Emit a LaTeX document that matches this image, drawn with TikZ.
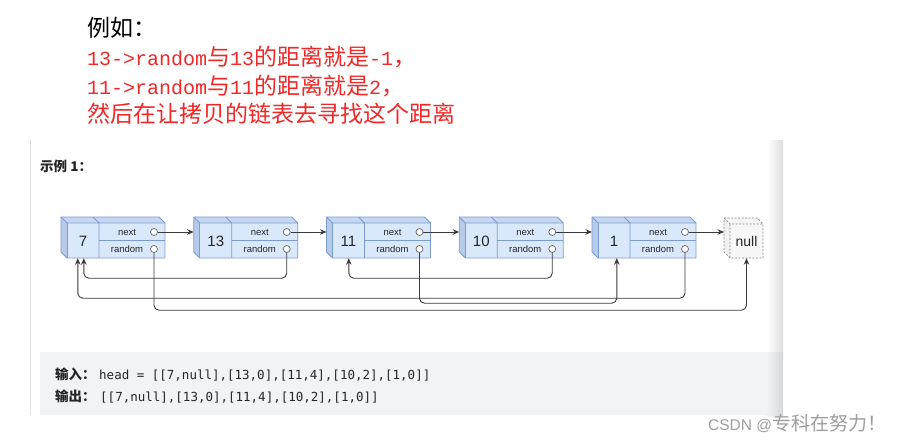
\documentclass[tikz,border=0pt]{standalone}
\usepackage{fontspec}
\setmainfont{Liberation Sans}
\newfontfamily\cjk{Noto Sans CJK SC}
\newfontfamily\monoA{Liberation Mono}
\newfontfamily\codef{DejaVu Sans Mono}
\usetikzlibrary{arrows.meta,calc}
\definecolor{nfill}{HTML}{DAE8FC}
\definecolor{nline}{HTML}{7A9CCF}
\definecolor{ntop}{HTML}{C6D7F1}
\definecolor{nside}{HTML}{B6CAEA}
\definecolor{arrc}{HTML}{3A3A3A}
\definecolor{redt}{HTML}{F02828}
\definecolor{codebg}{HTML}{F2F3F5}
\definecolor{txtd}{HTML}{262626}
\newcommand\AS[1]{{\fontsize{20pt}{24pt}\selectfont\monoA #1}}
\newcommand\CJ[1]{{\fontsize{23pt}{28pt}\selectfont\cjk #1}}
\tikzset{
  nbox/.style={minimum width=98pt,minimum height=35pt,inner sep=0pt,draw=none},
  nedge/.style={draw=nline,line width=0.8pt,line join=round},
  valtxt/.style={font=\fontsize{15pt}{17pt}\selectfont,text=txtd,inner sep=0pt},
  fieldtxt/.style={font=\fontsize{9.5pt}{11pt}\selectfont,text=txtd,inner sep=0pt},
  port/.style={circle,draw=black!60,fill=white,line width=0.7pt,minimum size=7pt,inner sep=0pt},
  arr/.style={draw=arrc,line width=0.9pt,rounded corners=5pt,-{Stealth[length=6.5pt,width=5.5pt]}},
  toptxt/.style={anchor=base west,inner sep=0pt},
}
\newcommand\lnode[3]{%
  \begin{scope}[shift={(#2,0)}]
    \fill[ntop] (0,217) -- (98,217) -- (104,223) -- (6,223) -- cycle;
    \fill[nside] (0,217) -- (6,223) -- (6,258) -- (0,252) -- cycle;
    \fill[nfill] (6,223) rectangle (104,258);
    \node[nbox] (#1) at (55,240.5) {};
    \draw[nedge] (0,217) -- (98,217) -- (104,223) -- (104,258) -- (6,258) -- (0,252) -- cycle;
    \draw[nedge] (0,217) -- (6,223) -- (104,223);
    \draw[nedge] (6,223) -- (6,258);
    \draw[nedge] (32,217) -- (38,223) -- (38,258);
    \draw[nedge] (38,240) -- (104,240);
    \node[valtxt] at (22,241) {#3};
    \node[fieldtxt] at (66,232) {next};
    \node[fieldtxt] at (66,249) {random};
    \node[port] (#1-n) at (93,232) {};
    \node[port] (#1-r) at (93,249) {};
    \coordinate (#1-in) at (0,232);
  \end{scope}}
\begin{document}
\begin{tikzpicture}[x=1pt,y=-1pt]
\useasboundingbox (0,0) rectangle (907,444);
\fill[white] (0,0) rectangle (907,444);
% top text
\node[toptxt] (t1) at (87,37) {\CJ{例如：}};
\node[toptxt,text=redt] (t2) at (87,65.5) {\AS{13->random}\CJ{与}\AS{13}\CJ{的距离就是}\AS{-1}\CJ{，}};
\node[toptxt,text=redt] (t3) at (87,94) {\AS{11->random}\CJ{与}\AS{11}\CJ{的距离就是}\AS{2}\CJ{，}};
\node[toptxt,text=redt] (t4) at (87,122.5) {\CJ{然后在让拷贝的链表去寻找这个距离}};
% panel
\draw[black!12,line width=1pt] (30.5,140) -- (30.5,415);
\fill[codebg] (40,352) rectangle (768,415);
\shade[left color=white,right color=black!13] (767,140) rectangle (783,352);
\shade[left color=codebg,right color=black!16] (767,352) rectangle (783,415);
\node[toptxt,text=txtd] (ex) at (40,171) {\fontsize{13.5pt}{16pt}\selectfont\cjk\bfseries 示例 1：};
% nodes
\lnode{n7}{61}{7}
\lnode{n13}{193.75}{13}
\lnode{n11}{326.5}{11}
\lnode{n10}{459.25}{10}
\lnode{n1}{592}{1}
% null box
\fill[black!4] (724,218) -- (757,218) -- (763,224) -- (730,224) -- cycle;
\fill[black!6] (724,218) -- (730,224) -- (730,258) -- (724,252) -- cycle;
\node[minimum width=33pt,minimum height=34pt,inner sep=0pt,fill=black!3] (nul) at (746.5,241) {\fontsize{14pt}{16pt}\selectfont\color{txtd}null};
\draw[black!45,line width=0.7pt,dash pattern=on 2pt off 1.5pt] (724,218) -- (757,218) -- (763,224) -- (763,258) -- (730,258) -- (724,252) -- cycle;
\draw[black!45,line width=0.7pt,dash pattern=on 2pt off 1.5pt] (724,218) -- (730,224) -- (763,224) (730,224) -- (730,258);
\coordinate (nul-in) at (724,232);
% next arrows
\draw[arr] (n7-n) -- (n13-in);
\draw[arr] (n13-n) -- (n11-in);
\draw[arr] (n11-n) -- (n10-in);
\draw[arr] (n10-n) -- (n1-in);
\draw[arr] (n1-n) -- (nul-in);
% random arrows
\draw[arr] (n7-r.south) |- ($(nul.south)+(0,52)$) -- (nul.south);
\draw[arr] (n13-r.south) |- ($(n7.south west)+(17,20)$) -- ($(n7.south west)+(17,0)$);
\draw[arr] (n11-r.south) |- ($(n1.south west)+(19,45)$) -- ($(n1.south west)+(19,0)$);
\draw[arr] (n10-r.south) |- ($(n11.south west)+(16.5,20)$) -- ($(n11.south west)+(16.5,0)$);
\draw[arr] (n1-r.south) |- ($(n7.south west)+(11,40)$) -- ($(n7.south west)+(11,0)$);
% code
\node[toptxt,text=txtd] (in1) at (55,379) {\fontsize{13.5pt}{15pt}\selectfont\cjk\bfseries 输入：};
\node[toptxt,text=txtd] (in2) at (99,379) {\fontsize{12.5pt}{15pt}\selectfont\codef head = [[7,null],[13,0],[11,4],[10,2],[1,0]]};
\node[toptxt,text=txtd] (out1) at (55,401) {\fontsize{13.5pt}{15pt}\selectfont\cjk\bfseries 输出：};
\node[toptxt,text=txtd] (out2) at (100,401) {\fontsize{12.5pt}{15pt}\selectfont\codef [[7,null],[13,0],[11,4],[10,2],[1,0]]};
% watermark
\node[inner sep=0pt,anchor=base west,text=black!38] (wm) at (708,430) {\fontsize{15.5pt}{18pt}\selectfont CSDN @{\fontsize{19pt}{22pt}\selectfont\cjk 专科在努力！}};
\end{tikzpicture}
\end{document}
